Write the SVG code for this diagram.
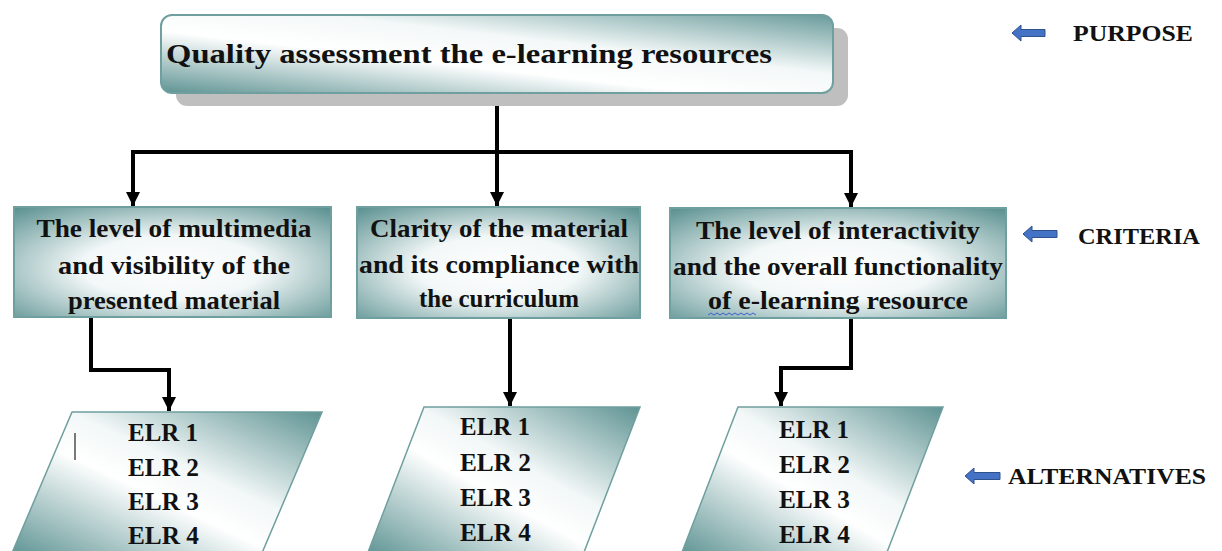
<svg xmlns="http://www.w3.org/2000/svg" width="1222" height="551" viewBox="0 0 1222 551">
<style>
.t{font-family:"Liberation Serif","Times New Roman",serif;font-weight:bold;fill:#111;}
.c{text-anchor:middle;}
.box{stroke:#6f9f9f;stroke-width:2;}
.conn{fill:none;stroke:#000;stroke-width:4;}
.blue{fill:#4472c4;stroke:#2f528f;stroke-width:1;}
</style>
<defs>
<linearGradient id="gTop" x1="0" y1="1" x2="1" y2="0">
<stop offset="0" stop-color="#5f9393"/>
<stop offset="0.4" stop-color="#ffffff"/>
<stop offset="0.62" stop-color="#f4f8f8"/>
<stop offset="1" stop-color="#6a9b9b"/>
</linearGradient>
<radialGradient id="gBox" cx="0.5" cy="0.55" r="0.72">
<stop offset="0" stop-color="#ffffff"/>
<stop offset="0.4" stop-color="#f2f7f7"/>
<stop offset="1" stop-color="#5f9393"/>
</radialGradient>
<linearGradient id="gPar" x1="0" y1="1" x2="1" y2="0">
<stop offset="0.05" stop-color="#6a9b9b"/>
<stop offset="0.45" stop-color="#ffffff"/>
<stop offset="0.6" stop-color="#f2f7f7"/>
<stop offset="1" stop-color="#5f9393"/>
</linearGradient>
<marker id="ah" markerWidth="3.5" markerHeight="3.5" refX="3.5" refY="1.75" orient="auto" markerUnits="strokeWidth">
<path d="M0,0 L3.5,1.75 L0,3.5 Z" fill="#000"/>
</marker>
</defs>
<rect width="1222" height="551" fill="#fff"/>

<g id="connectors">
<path class="conn" d="M497,93 V152"/>
<path class="conn" d="M131,152 H853"/>
<path class="conn" d="M133,150 V206" marker-end="url(#ah)"/>
<path class="conn" d="M497,152 V206" marker-end="url(#ah)"/>
<path class="conn" d="M851,150 V207" marker-end="url(#ah)"/>
<path class="conn" d="M91,317 V370 H169 V411" marker-end="url(#ah)"/>
<path class="conn" d="M510,318 V406" marker-end="url(#ah)"/>
<path class="conn" d="M851,318 V368 H781 V406" marker-end="url(#ah)"/>
</g>

<g id="purpose">
<rect x="176" y="28" width="672" height="78" rx="11" fill="#bfbfbf"/>
<rect x="161" y="15" width="672" height="78" rx="11" fill="url(#gTop)" class="box"/>
<text class="t" x="166" y="63" font-size="28" textLength="606" lengthAdjust="spacingAndGlyphs">Quality assessment the e-learning resources</text>
</g>

<g id="criterion1">
<rect x="14" y="207" width="317" height="110" fill="url(#gBox)" class="box"/>
<text class="t c" x="174" y="237" font-size="26" textLength="275" lengthAdjust="spacingAndGlyphs">The level of multimedia</text>
<text class="t c" x="174" y="274" font-size="26" textLength="232" lengthAdjust="spacingAndGlyphs">and visibility of the</text>
<text class="t c" x="174" y="309" font-size="26" textLength="212" lengthAdjust="spacingAndGlyphs">presented material</text>
</g>

<g id="criterion2">
<rect x="357" y="207" width="283" height="111" fill="url(#gBox)" class="box"/>
<text class="t c" x="499" y="237" font-size="26" textLength="258" lengthAdjust="spacingAndGlyphs">Clarity of the material</text>
<text class="t c" x="499" y="273" font-size="26" textLength="280" lengthAdjust="spacingAndGlyphs">and its compliance with</text>
<text class="t c" x="499" y="307" font-size="26" textLength="160" lengthAdjust="spacingAndGlyphs">the curriculum</text>
</g>

<g id="criterion3">
<rect x="670" y="208" width="336" height="110" fill="url(#gBox)" class="box"/>
<text class="t c" x="838" y="239" font-size="26" textLength="284" lengthAdjust="spacingAndGlyphs">The level of interactivity</text>
<text class="t c" x="838" y="275" font-size="26" textLength="330" lengthAdjust="spacingAndGlyphs">and the overall functionality</text>
<text class="t c" x="838" y="309" font-size="26" textLength="260" lengthAdjust="spacingAndGlyphs">of  e-learning resource</text>
<path d="M708,315 l3,-2 l3,2 l3,-2 l3,2 l3,-2 l3,2 l3,-2 l3,2 l3,-2 l3,2 l3,-2 l3,2 l3,-2 l3,2 l3,-2 l3,2" fill="none" stroke="#3a5fd0" stroke-width="1"/>
</g>

<g id="alternatives1">
<polygon points="72,412 322,412 259,560 9,560" fill="url(#gPar)" stroke="#6f9f9f" stroke-width="1.5"/>
<line x1="75" y1="433" x2="75" y2="460" stroke="#222" stroke-width="1.2"/>
<text class="t" x="128" y="441" font-size="26" textLength="70" lengthAdjust="spacingAndGlyphs">ELR 1</text>
<text class="t" x="128" y="476" font-size="26" textLength="71" lengthAdjust="spacingAndGlyphs">ELR 2</text>
<text class="t" x="128" y="510" font-size="26" textLength="71" lengthAdjust="spacingAndGlyphs">ELR 3</text>
<text class="t" x="128" y="544" font-size="26" textLength="71" lengthAdjust="spacingAndGlyphs">ELR 4</text>
</g>

<g id="alternatives2">
<polygon points="424,407 640,407 581,560 365,560" fill="url(#gPar)" stroke="#6f9f9f" stroke-width="1.5"/>
<text class="t" x="460" y="435" font-size="26" textLength="70" lengthAdjust="spacingAndGlyphs">ELR 1</text>
<text class="t" x="460" y="471" font-size="26" textLength="71" lengthAdjust="spacingAndGlyphs">ELR 2</text>
<text class="t" x="460" y="506" font-size="26" textLength="71" lengthAdjust="spacingAndGlyphs">ELR 3</text>
<text class="t" x="460" y="541" font-size="26" textLength="71" lengthAdjust="spacingAndGlyphs">ELR 4</text>
</g>

<g id="alternatives3">
<polygon points="738,407 943,407 884,560 679,560" fill="url(#gPar)" stroke="#6f9f9f" stroke-width="1.5"/>
<text class="t" x="779" y="438" font-size="26" textLength="70" lengthAdjust="spacingAndGlyphs">ELR 1</text>
<text class="t" x="779" y="473" font-size="26" textLength="71" lengthAdjust="spacingAndGlyphs">ELR 2</text>
<text class="t" x="779" y="508" font-size="26" textLength="71" lengthAdjust="spacingAndGlyphs">ELR 3</text>
<text class="t" x="779" y="543" font-size="26" textLength="71" lengthAdjust="spacingAndGlyphs">ELR 4</text>
</g>

<g id="label-purpose">
<path class="blue" d="M1012,33 L1021,25 V29.5 H1045 V36.5 H1021 V41 Z"/>
<text class="t" x="1073" y="41" font-size="23" textLength="120" lengthAdjust="spacingAndGlyphs">PURPOSE</text>
</g>
<g id="label-criteria">
<path class="blue" d="M1023,234 L1032,226 V230.5 H1057 V237.5 H1032 V242 Z"/>
<text class="t" x="1078" y="244" font-size="23" textLength="122" lengthAdjust="spacingAndGlyphs">CRITERIA</text>
</g>
<g id="label-alternatives">
<path class="blue" d="M965,476 L974,468 V472.5 H1000 V479.5 H974 V484 Z"/>
<text class="t" x="1008" y="484" font-size="23" textLength="198" lengthAdjust="spacingAndGlyphs">ALTERNATIVES</text>
</g>
</svg>
